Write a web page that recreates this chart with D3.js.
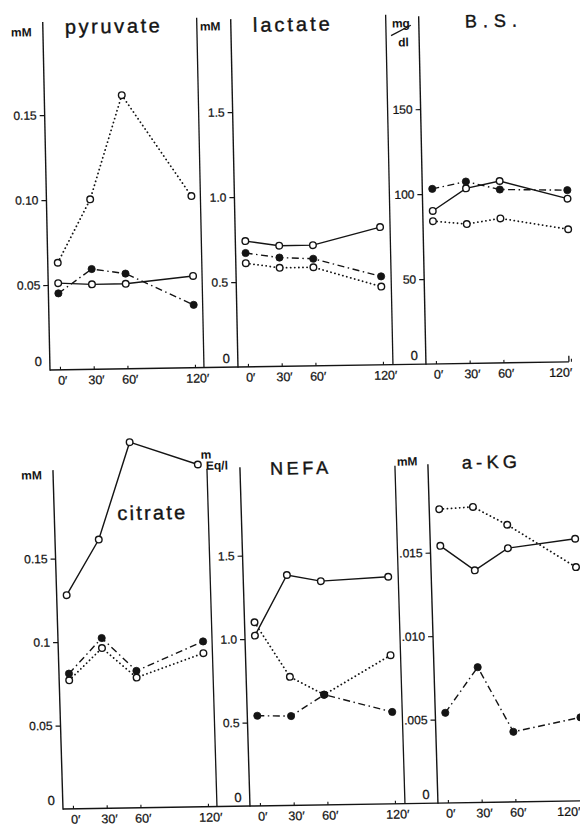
<!DOCTYPE html>
<html>
<head>
<meta charset="utf-8">
<script src="https://cdn.jsdelivr.net/npm/d3@7"></script>
<style>
	html, body { margin:0; padding:0; background:#fff; }
	svg { display:block; font-family:"Liberation Sans", Arial, "DejaVu Sans", sans-serif; }
</style>
</head>
<body>
<svg id="chart" width="580" height="827"></svg>
<script>
// sampling times (min) and their labels
const times      = [0, 30, 60, 120]
const timeLabels = ["0′", "30′", "60′", "120′"]

// pyruvate, mM
const pyruvateSolid   = [0.051, 0.050, 0.050, 0.054]
const pyruvateDotted  = [0.063, 0.100, 0.161, 0.101]
const pyruvateDashDot = [0.045, 0.059, 0.056, 0.037]
const pyruvateTicks   = [0, 0.05, 0.10, 0.15]
const pyruvateLabels  = ["0", "0.05", "0.10", "0.15"]

// lactate, mM
const lactateSolid   = [0.74, 0.71, 0.71, 0.81]
const lactateDotted  = [0.61, 0.58, 0.58, 0.46]
const lactateDashDot = [0.67, 0.64, 0.63, 0.52]
const lactateTicks   = [0, 0.5, 1.0, 1.5]
const lactateLabels  = ["0", "0.5", "1.0", "1.5"]

// blood sugar, mg/dl
const bsSolid   = [90, 103, 107, 96]
const bsDotted  = [84, 82, 85, 78]
const bsDashDot = [103, 107, 102, 101]
const bsTicks   = [0, 50, 100, 150]
const bsLabels  = ["0", "50", "100", "150"]

// citrate, mM
const citrateSolid   = [0.128, 0.161, 0.219, 0.205]
const citrateDotted  = [0.077, 0.096, 0.078, 0.092]
const citrateDashDot = [0.081, 0.102, 0.082, 0.099]
const citrateTicks   = [0, 0.05, 0.1, 0.15]
const citrateLabels  = ["0", "0.05", "0.1", "0.15"]

// NEFA, mEq/l
const nefaSolid   = [1.02, 1.38, 1.34, 1.36]
const nefaDotted  = [1.10, 0.77, 0.66, 0.89]
const nefaDashDot = [0.54, 0.535, 0.66, 0.55]
const nefaTicks   = [0, 0.5, 1.0, 1.5]
const nefaLabels  = ["0", "0.5", "1.0", "1.5"]

// alpha-ketoglutarate, mM
const akgSolid   = [0.0154, 0.0139, 0.0152, 0.0157]
const akgDotted  = [0.0176, 0.0177, 0.0166, 0.0140]
const akgDashDot = [0.0054, 0.0081, 0.0042, 0.0050]
const akgTicks   = [0, 0.005, 0.010, 0.015]
const akgLabels  = ["0", ".005", ".010", ".015"]

const ink = "#141414"
const svg = d3.select("#chart")

// two rows, each slightly skewed like the printed scan
const rows = [
	{pivot:[50, 370], rotate:-0.9, skew:0.3, yZero:370, yMax:30,  axisTop:22,  frameTop:20},
	{pivot:[63, 809], rotate:-0.9, skew:0.8, yZero:809, yMax:475, axisTop:470, frameTop:471}
]

// xEnd: where the baseline stops (it runs on through the next frame)
const panels = [
	{row:0, axisX:50,  frameX:null, xEnd:238, max:0.2, ticks:pyruvateTicks, labels:pyruvateLabels,
	 solid:pyruvateSolid, dotted:pyruvateDotted, dashDot:pyruvateDashDot,
	 title:"pyruvate", titleX:72, titleY:34, titleSize:20, titleLen:95,
	 units:[{t:"mM", x:18, y:36}]},
	{row:0, axisX:238, frameX:204, xEnd:426, max:2.0, ticks:lactateTicks, labels:lactateLabels,
	 solid:lactateSolid, dotted:lactateDotted, dashDot:lactateDashDot,
	 title:"lactate", titleX:260, titleY:35, titleSize:20, titleLen:77,
	 units:[{t:"mM", x:207, y:33}]},
	{row:0, axisX:426, frameX:393, xEnd:569, max:200, ticks:bsTicks, labels:bsLabels, endTick:true, lastShift:-11,
	 solid:bsSolid, dotted:bsDotted, dashDot:bsDashDot,
	 title:"B.S.", titleX:472, titleY:34, titleSize:18, titleLen:52,
	 units:[{t:"mg", x:399, y:33}, {t:"dl", x:405, y:52}], slash:[398, 41, 418, 31]},
	{row:1, axisX:63,  frameX:null, xEnd:250, max:0.2, ticks:citrateTicks, labels:citrateLabels,
	 solid:citrateSolid, dotted:citrateDotted, dashDot:citrateDashDot,
	 title:"citrate", titleX:126, titleY:521, titleSize:20, titleLen:68,
	 units:[{t:"mM", x:31, y:479}]},
	{row:1, axisX:250, frameX:217, xEnd:438, max:2.0, ticks:nefaTicks, labels:nefaLabels,
	 solid:nefaSolid, dotted:nefaDotted, dashDot:nefaDashDot,
	 title:"NEFA", titleX:280, titleY:478, titleSize:18, titleLen:58,
	 units:[{t:"m", x:211, y:461}, {t:"Eq/l", x:216, y:472}]},
	{row:1, axisX:438, frameX:405, xEnd:590, max:0.02, ticks:akgTicks, labels:akgLabels, lastShift:-15,
	 solid:akgSolid, dotted:akgDotted, dashDot:akgDashDot,
	 title:"a-KG", titleX:472, titleY:475, titleSize:18, titleLen:55,
	 units:[{t:"mM", x:407, y:471}]}
]

const rowGroups = rows.map(r => svg.append("g")
	.attr("transform", "translate(" + r.pivot[0] + "," + r.pivot[1] + ") rotate(" + r.rotate +
		") skewX(" + r.skew + ") translate(" + (-r.pivot[0]) + "," + (-r.pivot[1]) + ")"))

panels.forEach(p => DrawPanel(rowGroups[p.row], p, rows[p.row]))

function DrawPanel(g, p, row){
	const y = d3.scaleLinear().domain([0, p.max]).range([row.yZero, row.yMax])
	const x = d3.scaleLinear().domain([0, 120]).range([p.axisX + 10, p.axisX + 145])

	// frame and axis lines
	if (p.frameX != null){
		g.append("line")
			.attr("x1", p.frameX).attr("x2", p.frameX)
			.attr("y1", row.frameTop).attr("y2", row.yZero)
			.attr("stroke", ink).attr("stroke-width", 1.3)
	}
	g.append("line")
		.attr("x1", p.axisX).attr("x2", p.axisX)
		.attr("y1", row.axisTop).attr("y2", row.yZero + 0.7)
		.attr("stroke", ink).attr("stroke-width", 1.4)
	g.append("line")
		.attr("x1", p.axisX).attr("x2", p.xEnd)
		.attr("y1", row.yZero).attr("y2", row.yZero)
		.attr("stroke", ink).attr("stroke-width", 1.4)
	if (p.endTick){
		g.append("line")
			.attr("x1", p.xEnd).attr("x2", p.xEnd)
			.attr("y1", row.yZero).attr("y2", row.yZero - 6)
			.attr("stroke", ink).attr("stroke-width", 1.3)
	}

	// y axis ticks
	let yAxis = d3.axisLeft(y)
		.tickValues(p.ticks)
		.tickFormat((d, i) => p.labels[i])
		.tickSize(5)
		.tickPadding(3)
	let yAxisGroup = g.append("g")
		.attr("transform", "translate(" + p.axisX + ",0)")
		.call(yAxis)
	yAxisGroup.select(".domain").remove()
	yAxisGroup.selectAll("text")
		.style("font-size", "12px")
		.style("font-family", "inherit")
		.style("fill", ink)
		.style("stroke", ink)
		.style("stroke-width", 0.25)
	yAxisGroup.selectAll("line")
		.style("stroke", ink)
		.style("stroke-width", 1.2)
	// zero label sits above the corner, without a tick
	let zeroTick = yAxisGroup.selectAll(".tick").filter(d => d === 0)
	zeroTick.select("line").remove()
	zeroTick.select("text").attr("x", -8).attr("y", -9).style("font-size", "13px")

	// x axis ticks point inward
	let xAxis = d3.axisBottom(x)
		.tickValues(times)
		.tickFormat((d, i) => timeLabels[i])
		.tickSize(-3)
		.tickPadding(6)
	let xAxisGroup = g.append("g")
		.attr("transform", "translate(0," + row.yZero + ")")
		.call(xAxis)
	xAxisGroup.select(".domain").remove()
	xAxisGroup.selectAll("text")
		.attr("dx", (d, i) => (i == 3 && p.lastShift) ? p.lastShift : 2)
		.style("font-size", "12.5px")
		.style("font-family", "inherit")
		.style("fill", ink)
		.style("stroke", ink)
		.style("stroke-width", 0.25)
	xAxisGroup.selectAll("line")
		.style("stroke", ink)
		.style("stroke-width", 1.1)

	// series
	const line = d3.line()
		.x((d, i) => x(times[i]))
		.y(d => y(d))
	const series = [
		{values:p.dotted,  dash:"0.1,4",         cap:"round", width:1.8, filled:false},
		{values:p.solid,   dash:null,            cap:"butt",  width:1.4, filled:false},
		{values:p.dashDot, dash:"7,3.5,1.5,3.5", cap:"butt",  width:1.4, filled:true}
	]
	series.forEach(s => {
		g.append("path")
			.datum(s.values)
			.attr("d", line)
			.attr("fill", "none")
			.attr("stroke", ink)
			.attr("stroke-width", s.width)
			.attr("stroke-linecap", s.cap)
			.attr("stroke-dasharray", s.dash)
	})
	series.forEach(s => {
		g.append("g").selectAll("circle")
			.data(s.values)
			.join("circle")
			.attr("cx", (d, i) => x(times[i]))
			.attr("cy", d => y(d))
			.attr("r", s.filled ? 3.6 : 3.3)
			.attr("fill", s.filled ? ink : "#fff")
			.attr("stroke", ink)
			.attr("stroke-width", s.filled ? 0.8 : 1.4)
	})

	// title and unit
	g.append("text")
		.attr("x", p.titleX).attr("y", p.titleY)
		.attr("textLength", p.titleLen)
		.attr("lengthAdjust", "spacing")
		.style("font-size", p.titleSize + "px")
		.style("fill", ink)
		.style("stroke", ink)
		.style("stroke-width", 0.4)
		.text(p.title)
	p.units.forEach(u => {
		g.append("text")
			.attr("x", u.x).attr("y", u.y)
			.style("font-size", "12px")
			.style("font-weight", "bold")
			.style("fill", ink)
			.text(u.t)
	})
	if (p.slash){
		g.append("line")
			.attr("x1", p.slash[0]).attr("y1", p.slash[1])
			.attr("x2", p.slash[2]).attr("y2", p.slash[3])
			.attr("stroke", ink).attr("stroke-width", 1.3)
	}
}
</script>
</body>
</html>
